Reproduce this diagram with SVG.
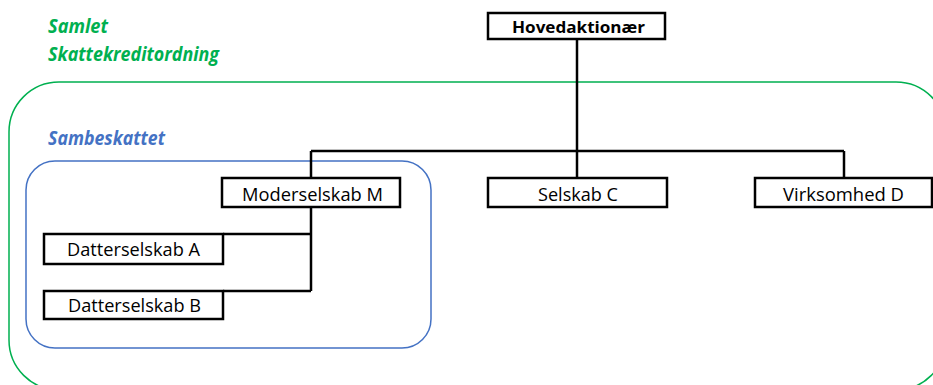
<svg xmlns="http://www.w3.org/2000/svg" width="933" height="385" viewBox="0 0 933 385">
  <style>
    .box { fill: #ffffff; stroke: #000000; stroke-width: 2.5; }
    .lbl { font-family: "Open Sans", "Liberation Sans", sans-serif; font-size: 18px; fill: #000000; text-anchor: middle; }
    .head { font-weight: bold; font-size: 16px; }
    .title { font-family: "Open Sans", "Liberation Sans", sans-serif; font-size: 19px; font-weight: bold; font-style: italic; }
    .green { fill: #00b050; }
    .blue { fill: #4472c4; }
    .link { fill: none; stroke: #000000; stroke-width: 2.5; }
  </style>

  <!-- grouping frames -->
  <rect id="frame-skattekredit" x="9" y="82" width="937" height="308" rx="50" ry="50" fill="none" stroke="#00b050" stroke-width="1.5"/>
  <rect id="frame-sambeskattet" x="26" y="161" width="405" height="187" rx="29" ry="29" fill="none" stroke="#4472c4" stroke-width="1.5"/>

  <text class="title green" x="48" y="33" textLength="60" lengthAdjust="spacingAndGlyphs">Samlet</text>
  <text class="title green" x="48" y="61" textLength="171" lengthAdjust="spacingAndGlyphs">Skattekreditordning</text>
  <text class="title blue" x="48" y="145" textLength="117" lengthAdjust="spacingAndGlyphs">Sambeskattet</text>

  <!-- connectors -->
  <g id="connectors">
    <path class="link" d="M577 39 V151"/>
    <path class="link" d="M311 151 H844"/>
    <path class="link" d="M311 151 V178"/>
    <path class="link" d="M577 151 V178"/>
    <path class="link" d="M844 151 V178"/>
    <path class="link" d="M311 207 V291"/>
    <path class="link" d="M223 234 H311"/>
    <path class="link" d="M223 291 H311"/>
  </g>

  <g id="hovedaktionaer">
    <rect class="box" x="488" y="13" width="177" height="26"/>
    <text class="lbl head" x="578.5" y="33" textLength="133" lengthAdjust="spacingAndGlyphs">Hovedaktionær</text>
  </g>
  <g id="moderselskab-m">
    <rect class="box" x="222" y="178" width="178" height="29"/>
    <text class="lbl" x="312.5" y="201" textLength="141" lengthAdjust="spacingAndGlyphs">Moderselskab M</text>
  </g>
  <g id="selskab-c">
    <rect class="box" x="488" y="178" width="179" height="29"/>
    <text class="lbl" x="578" y="201" textLength="80" lengthAdjust="spacingAndGlyphs">Selskab C</text>
  </g>
  <g id="virksomhed-d">
    <rect class="box" x="755" y="178" width="177" height="29"/>
    <text class="lbl" x="843.5" y="201" textLength="121" lengthAdjust="spacingAndGlyphs">Virksomhed D</text>
  </g>
  <g id="datterselskab-a">
    <rect class="box" x="44" y="234" width="179" height="30"/>
    <text class="lbl" x="133.5" y="256" textLength="133" lengthAdjust="spacingAndGlyphs">Datterselskab A</text>
  </g>
  <g id="datterselskab-b">
    <rect class="box" x="44" y="291" width="179" height="28"/>
    <text class="lbl" x="134.5" y="312" textLength="133" lengthAdjust="spacingAndGlyphs">Datterselskab B</text>
  </g>
</svg>
